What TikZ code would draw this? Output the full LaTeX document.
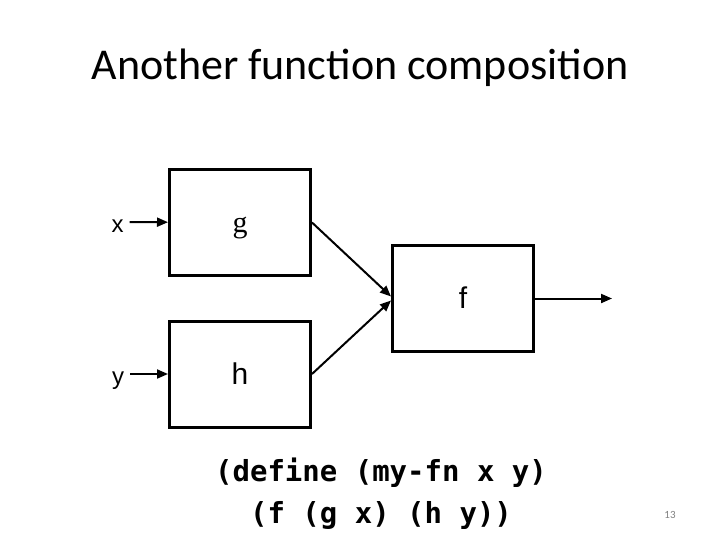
\documentclass[tikz,border=0pt]{standalone}
\usepackage{fontspec}
\setmainfont{Carlito}
\setmonofont{DejaVu Sans Mono}
\newfontfamily\arialfont{Liberation Sans}
\newfontfamily\timesfont{Liberation Serif}
\usetikzlibrary{arrows.meta}

\begin{document}
\begin{tikzpicture}[x=1pt,y=1pt,
    block/.style={draw,line width=3pt,minimum width=141pt,minimum height=106pt,text height=20pt,text depth=0pt,font=\fontsize{30}{34}\selectfont\arialfont},
    inlabel/.style={font=\fontsize{24}{28}\selectfont\arialfont,inner sep=6pt,text height=21pt,text depth=0pt},
    wire/.style={line width=2pt,-{Triangle[length=11pt,width=9pt]}}]
      \useasboundingbox (0,0) rectangle (720,-540);
      \node (Title) at (360,-68) {\fontsize{44}{52}\selectfont Another function composition};

      \node[block] (G) at (240,-222.5) {\timesfont g};
      \node[block] (H) at (240,-374)   {h};
      \node[block] (F) at (463,-298.5) {f};

      \node[inlabel] (X) at (117.5,-222) {x};
      \node[inlabel] (Y) at (118,-374) {y};
      \coordinate (Out) at (612,-298.5);

      \path[wire] (X)       edge (G)
                  (Y)       edge (H)
                  (G.east)  edge ([yshift=2pt]F.west)
                  (H.east)  edge ([yshift=-2pt]F.west)
                  (F.east)  edge (Out);

      \node[align=center,font=\fontsize{29}{42}\selectfont\ttfamily\bfseries] (Code) at (381,-494)
            {(define (my-fn x y)\\(f (g x) (h y))};
      \node[text=gray,font=\fontsize{11}{13}\selectfont] (Page) at (670,-515) {13};
\end{tikzpicture}
\end{document}
